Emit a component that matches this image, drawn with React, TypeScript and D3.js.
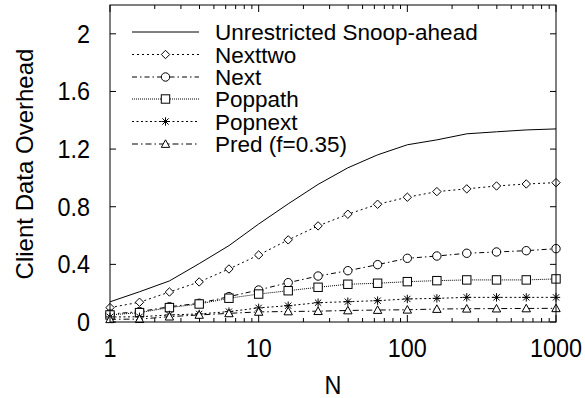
import React from "react";
import * as d3 from "d3";

const nValues = [1, 1.58, 2.51, 3.98, 6.31, 10, 15.8, 25.1, 39.8, 63.1, 100, 158, 251, 398, 631, 1000];
const unrestricted = [0.14, 0.21, 0.285, 0.405, 0.53, 0.68, 0.82, 0.955, 1.07, 1.16, 1.23, 1.264, 1.306, 1.32, 1.333, 1.34];
const nexttwo = [0.1, 0.137, 0.208, 0.278, 0.368, 0.465, 0.57, 0.667, 0.748, 0.817, 0.866, 0.905, 0.924, 0.944, 0.958, 0.967];
const next = [0.055, 0.072, 0.106, 0.13, 0.176, 0.222, 0.273, 0.319, 0.356, 0.398, 0.442, 0.458, 0.477, 0.486, 0.495, 0.509];
const poppath = [0.049, 0.065, 0.1, 0.125, 0.165, 0.194, 0.217, 0.241, 0.262, 0.269, 0.28, 0.287, 0.292, 0.292, 0.292, 0.299];
const popnext = [0.035, 0.036, 0.049, 0.056, 0.072, 0.098, 0.113, 0.134, 0.141, 0.148, 0.16, 0.164, 0.171, 0.171, 0.171, 0.171];
const pred = [0.019, 0.02, 0.037, 0.049, 0.06, 0.07, 0.073, 0.075, 0.08, 0.083, 0.085, 0.09, 0.092, 0.093, 0.094, 0.095];

const xTicks = [1, 10, 100, 1000];
const yTicks = [0, 0.4, 0.8, 1.2, 1.6, 2];
const yTickLabels = ["0", "0.4", "0.8", "1.2", "1.6", "2"];

type Series = { name: string; values: number[]; dash: string; marker: string };
const series: Series[] = [
  { name: "Unrestricted Snoop-ahead", values: unrestricted, dash: "none", marker: "none" },
  { name: "Nexttwo", values: nexttwo, dash: "2,3", marker: "diamond" },
  { name: "Next", values: next, dash: "5,3,1.5,3", marker: "circle" },
  { name: "Poppath", values: poppath, dash: "1,1", marker: "square" },
  { name: "Popnext", values: popnext, dash: "2,2.5", marker: "star" },
  { name: "Pred (f=0.35)", values: pred, dash: "6,3,1.5,3", marker: "triangle" },
];

const W = 585, H = 398;
const left = 110, right = 556, top = 5, bottom = 322;
const FONT = "Liberation Sans, Arial, Helvetica, sans-serif";

function Marker({ type, x, y }: { type: string; x: number; y: number }) {
  const s = 4.2;
  const common = { fill: "white", stroke: "black", strokeWidth: 1 };
  if (type === "diamond")
    return <path d={`M${x},${y - s}L${x + s},${y}L${x},${y + s}L${x - s},${y}Z`} {...common} />;
  if (type === "circle") return <circle cx={x} cy={y} r={s} {...common} />;
  if (type === "square") return <rect x={x - s} y={y - s} width={2 * s} height={2 * s} {...common} />;
  if (type === "triangle")
    return <path d={`M${x},${y - s}L${x + s},${y + s * 0.8}L${x - s},${y + s * 0.8}Z`} {...common} />;
  if (type === "star") {
    const r = s, q = s * 0.75;
    return (
      <path
        d={`M${x - r},${y}L${x + r},${y}M${x},${y - r}L${x},${y + r}M${x - q},${y - q}L${x + q},${y + q}M${x - q},${y + q}L${x + q},${y - q}`}
        stroke="black"
        strokeWidth={1}
        fill="none"
      />
    );
  }
  return null;
}

export default function App() {
  const x = d3.scaleLog().domain([1, 1000]).range([left, right]);
  const y = d3.scaleLinear().domain([0, 2.2]).range([bottom, top]);
  const line = d3
    .line<number>()
    .x((_, i) => x(nValues[i]))
    .y((d) => y(d));

  const minorX: number[] = [];
  for (let dec = 1; dec < 1000; dec *= 10) for (let m = 2; m <= 9; m++) minorX.push(dec * m);

  const legendX1 = 132, legendX2 = 199, legendTextX = 215;
  const legendRows = [32, 54.5, 77, 99, 121.5, 144];

  return (
    <svg width={W} height={H} style={{ position: "absolute", left: 0, top: 0, background: "white" }} fontFamily={FONT}>
      <rect x={0} y={0} width={W} height={H} fill="white" />
      {xTicks.map((t) => (
        <g key={"xt" + t}>
          <line x1={x(t)} x2={x(t)} y1={bottom} y2={bottom - 7} stroke="black" />
          <line x1={x(t)} x2={x(t)} y1={top} y2={top + 7} stroke="black" />
        </g>
      ))}
      {minorX.map((t) => (
        <g key={"xm" + t}>
          <line x1={x(t)} x2={x(t)} y1={bottom} y2={bottom - 4} stroke="black" />
          <line x1={x(t)} x2={x(t)} y1={top} y2={top + 4} stroke="black" />
        </g>
      ))}
      {yTicks.map((t) => (
        <g key={"yt" + t}>
          <line x1={left} x2={left + 6} y1={y(t)} y2={y(t)} stroke="black" />
          <line x1={right} x2={right - 6} y1={y(t)} y2={y(t)} stroke="black" />
        </g>
      ))}
      {xTicks.map((t) => (
        <text key={"xl" + t} transform={`translate(${x(t)},357) scale(1,1.08)`} fontSize={23.4} textAnchor="middle">
          {String(t)}
        </text>
      ))}
      {yTicks.map((t, i) => (
        <text key={"yl" + t} transform={`translate(90,${y(t) + 9}) scale(1,1.08)`} fontSize={23.4} textAnchor="end">
          {yTickLabels[i]}
        </text>
      ))}
      <text transform="translate(333,394) scale(1,1.08)" fontSize={23.4} textAnchor="middle">N</text>
      <text transform={`translate(33,164) rotate(-90)`} fontSize={24} textAnchor="middle">
        Client Data Overhead
      </text>
      {series.map((s) => (
        <g key={s.name}>
          <path d={line(s.values) || ""} fill="none" stroke="black" strokeWidth={1} strokeDasharray={s.dash} />
          {s.marker !== "none" &&
            s.values.map((v, i) => <Marker key={i} type={s.marker} x={x(nValues[i])} y={y(v)} />)}
        </g>
      ))}
      {series.map((s, i) => (
        <g key={"lg" + s.name}>
          <line x1={legendX1} x2={legendX2} y1={legendRows[i]} y2={legendRows[i]} stroke="black" strokeDasharray={s.dash} />
          {s.marker !== "none" && <Marker type={s.marker} x={(legendX1 + legendX2) / 2} y={legendRows[i]} />}
          <text x={legendTextX} y={legendRows[i]} dy="0.36em" fontSize={22.5}>
            {s.name}
          </text>
        </g>
      ))}
      <rect x={left} y={top} width={right - left} height={bottom - top} fill="none" stroke="black" strokeWidth={1} />
    </svg>
  );
}
